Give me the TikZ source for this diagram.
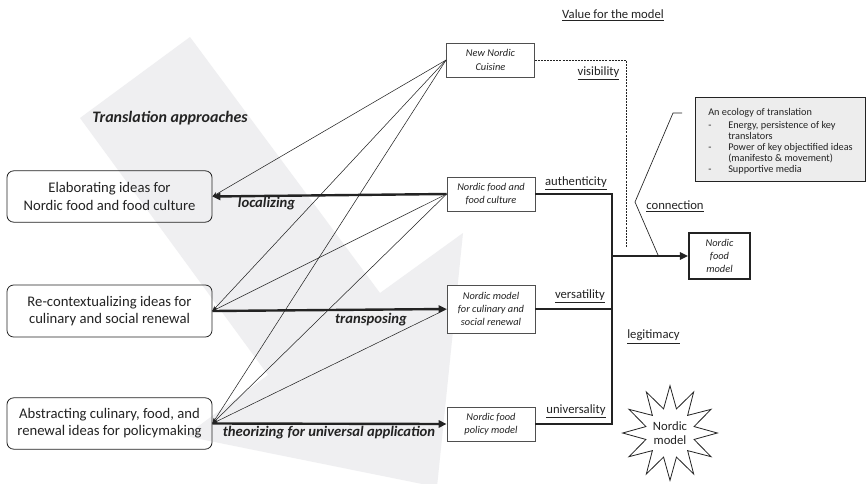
\documentclass[tikz,border=0pt]{standalone}
\usepackage{fontspec}
\setmainfont{Carlito}
\usetikzlibrary{arrows.meta,shapes.geometric}
\definecolor{bandgray}{RGB}{239,239,241}
\definecolor{ink}{RGB}{35,35,35}
\definecolor{ecofill}{RGB}{237,237,237}
\begin{document}
\begin{tikzpicture}[x=0.75pt,y=-0.75pt,
  leftbox/.style={draw=ink, line width=0.6pt, rounded corners=5pt, minimum width=153.75pt, minimum height=38.5pt, align=center, font=\fontsize{11}{12.9}\selectfont, text=ink, inner sep=0pt},
  rightbox/.style={draw=ink!80, fill=white, line width=0.6pt, minimum width=66pt, align=center, font=\fontsize{7.8}{10}\selectfont\itshape, text=ink, inner sep=0pt},
  thinarrow/.style={draw=ink, line width=0.4pt, -{Stealth[length=4pt,width=3pt]}},
  thickline/.style={draw=ink, line width=1.8pt},
  thickarrow/.style={thickline, -{Triangle[length=6pt,width=5.5pt]}},
  lbl/.style={font=\fontsize{9.5}{11}\selectfont, text=ink, inner sep=0pt},
  approach/.style={font=\fontsize{11}{13}\selectfont\bfseries\itshape, text=ink, inner sep=0pt}]

\fill[white] (0,0) rectangle (868,483);
\useasboundingbox (0,0) rectangle (868,483);

% grey background arrow
\begin{scope}
\clip (0,0) rectangle (868,483);
\fill[bandgray] (80,118) -- (190,37) -- (380,293) -- (463,233) -- (437,487) -- (185,436) -- (268,375) -- cycle;
\end{scope}

% left boxes
\node[leftbox] (b1) at (109.5,196.5) {Elaborating ideas for\\Nordic food and food culture};
\node[leftbox, minimum height=39pt] (b2) at (109.5,311) {Re-contextualizing ideas for\\culinary and social renewal};
\node[leftbox] (b3) at (109.5,423.5) {Abstracting culinary, food, and\\renewal ideas for policymaking};

% right boxes
\node[rightbox, minimum height=25.5pt] (nnc) at (490.5,60) {New Nordic\\Cuisine};
\node[rightbox, minimum height=25.5pt] (nffc) at (491,194) {Nordic food and\\food culture};
\node[rightbox, minimum height=36pt] (nmc) at (491,309) {Nordic model\\for culinary and\\social renewal};
\node[rightbox, minimum height=25.5pt] (nfp) at (491,424) {Nordic food\\policy model};
\node[rightbox, draw=ink, line width=1.8pt, minimum width=45.5pt, minimum height=34.2pt] (nfm) at (719.5,256) {Nordic\\food\\model};

% ecology box
\node[draw=ink, fill=ecofill, line width=0.6pt, minimum width=128pt, minimum height=63pt, inner sep=0pt] (eco) at (780.5,139) {};
\node[anchor=north west, align=left, font=\fontsize{7.7}{8.3}\selectfont, text=ink, inner sep=0pt] (ecot) at (708,108)
 {An ecology of translation\\[1.6pt]
  \makebox[15pt][l]{-}Energy, persistence of key\\
  \hspace*{15pt}translators\\
  \makebox[15pt][l]{-}Power of key objectified ideas\\
  \hspace*{15pt}(manifesto \& movement)\\
  \makebox[15pt][l]{-}Supportive media};

% star
\node[star, star points=12, star point ratio=1.9, draw=ink, line width=0.6pt, minimum size=71pt, inner sep=0pt, align=center, font=\fontsize{9.5}{11}\selectfont, text=ink] (star) at (670,433) {Nordic\\model};

% thin connectors
\draw[thinarrow] (nnc.west) -- (b1.east);
\draw[thinarrow] (nnc.west) -- (b2.east);
\draw[thinarrow] (nnc.west) -- (b3.east);
\draw[thinarrow] (nffc.west) -- (b2.east);
\draw[thinarrow] (nffc.west) -- (b3.east);
\draw[thinarrow] (nmc.west) -- (b3.east);

% thick translation arrows
\draw[thickarrow] (nffc.west) -- (b1.east);
\draw[thickarrow] (b2.east) -- (nmc.west);
\draw[thickarrow] (b3.east) -- (nfp.west);

% bracket
\coordinate (jt) at (612,194);
\coordinate (jm) at (612,309);
\coordinate (jc) at (612,256);
\coordinate (jb) at (612,424);
\draw[thickline, line join=miter] (nffc.east) -- (jt) -- (jb) -- (nfp.east);
\draw[thickline] (nmc.east) -- (jm);
\draw[thickarrow] (jc) -- (nfm.west);

% dotted visibility line
\coordinate (dv) at (626,60);
\coordinate (de) at (626,247);
\draw[ink, line width=0.5pt, dash pattern=on 1.5pt off 0.8pt] (nnc.east) -- (dv) -- (de);

% connection callout line
\coordinate (c1) at (682,113);
\coordinate (c2) at (673,113);
\coordinate (c3) at (635,202);
\coordinate (c4) at (658,255);
\draw[ink, line width=0.5pt] (c1) -- (c2) -- (c3) -- (c4);

% labels
\node[lbl] (vfm) at (613,15) {\underline{Value for the model}};
\node[lbl] (vis) at (598.5,73) {\underline{visibility}};
\node[lbl] (aut) at (576,183) {\underline{authenticity}};
\node[lbl] (ver) at (580,296) {\underline{versatility}};
\node[lbl] (uni) at (576,411) {\underline{universality}};
\node[lbl] (con) at (675,206) {\underline{connection}};
\node[lbl] (leg) at (653.5,337) {\underline{legitimacy}};

\node[font=\fontsize{12}{14}\selectfont\bfseries\itshape, text=ink, inner sep=0pt] (ta) at (170,118) {Translation approaches};
\node[approach] (loc) at (266.5,204) {localizing};
\node[approach] (tra) at (371,320) {transposing};
\node[approach] (the) at (329,433) {theorizing for universal application};
\end{tikzpicture}
\end{document}
